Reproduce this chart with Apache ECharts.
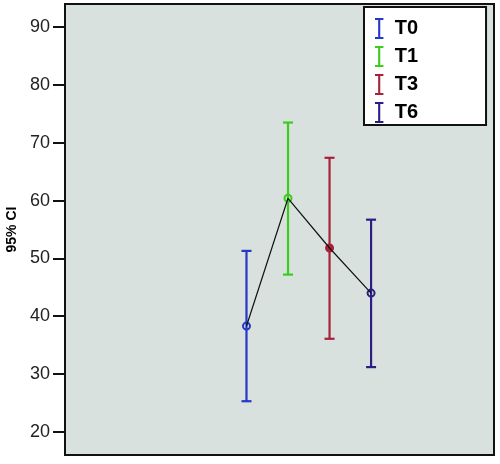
<!DOCTYPE html>
<html>
<head>
<meta charset="utf-8">
<script src="https://cdn.jsdelivr.net/npm/echarts@6/dist/echarts.min.js"></script>
<style>
body{margin:0;background:#fff;}
#chart{width:500px;height:464px;}
</style>
</head>
<body>
<div id="chart"></div>
<script>
var groups = ['T0', 'T1', 'T3', 'T6']
var means = [38.3, 60.4, 51.8, 44.0]
var lows = [25.3, 47.2, 36.1, 31.2]
var highs = [51.3, 73.5, 67.4, 56.7]
var colors = ['#2337c8', '#3ccc1e', '#a8213a', '#2a1e86']
var filled = [false, false, true, false]
var yTicks = [20, 30, 40, 50, 60, 70, 80, 90]

var chart = echarts.init(document.getElementById('chart'))

// I-beam shape for the legend
var ibeam = 'path://M0,0 L12,0 L12,3 L7.5,3 L7.5,27 L12,27 L12,30 L0,30 L0,27 L4.5,27 L4.5,3 L0,3 Z'

var series = []
for (let i = 0; i < groups.length; i++) {
  series.push({
    name: groups[i],
    type: 'custom',
    z: 3,
    itemStyle: {color: colors[i]},
    data: [[i, lows[i], highs[i], means[i]]],
    renderItem: function (params, api) {
      var x = api.value(0)
      var lo = api.coord([x, api.value(1)])
      var hi = api.coord([x, api.value(2)])
      var m = api.coord([x, api.value(3)])
      var c = colors[i]
      var w = 5
      var st = {stroke: c, lineWidth: 2.2}
      return {
        type: 'group',
        children: [
          {type: 'line', shape: {x1: hi[0], y1: hi[1], x2: lo[0], y2: lo[1]}, style: st},
          {type: 'line', shape: {x1: hi[0] - w, y1: hi[1], x2: hi[0] + w, y2: hi[1]}, style: st},
          {type: 'line', shape: {x1: lo[0] - w, y1: lo[1], x2: lo[0] + w, y2: lo[1]}, style: st},
          {type: 'circle', z2: 10, shape: {cx: m[0], cy: m[1], r: 3.5},
            style: {stroke: c, lineWidth: 2, fill: filled[i] ? c : 'none'}}
        ]
      }
    }
  })
}

series.push({
  name: 'means',
  type: 'line',
  z: 4,
  symbol: 'none',
  lineStyle: {color: '#111', width: 1.2},
  data: means.map(function (v, i) { return [i, v] })
})

chart.setOption({
  backgroundColor: '#fff',
  animation: false,
  grid: {
    left: 65, right: 6, top: 4, bottom: 9,
    outerBoundsMode: 'none',
    containLabel: false,
    show: true,
    backgroundColor: '#d9e1de',
    borderColor: '#111',
    borderWidth: 2
  },
  legend: {
    orient: 'vertical',
    left: 364,
    top: 7,
    padding: [11, 68, 2, 11],
    itemGap: 7,
    itemWidth: 9,
    itemHeight: 21,
    backgroundColor: '#fff',
    borderColor: '#111',
    borderWidth: 2,
    textStyle: {fontFamily: 'Arial, Liberation Sans', fontSize: 20, fontWeight: 'bold', color: '#000', padding: [0, 0, 0, 6]},
    data: groups.map(function (g, i) {
      return {name: g, icon: ibeam, itemStyle: {color: colors[i]}}
    })
  },
  xAxis: {
    type: 'value',
    min: -4.37,
    max: 5.96,
    axisLine: {show: true, onZero: false, lineStyle: {color: '#111', width: 2}},
    axisTick: {show: false},
    axisLabel: {show: false},
    splitLine: {show: false}
  },
  yAxis: {
    type: 'value',
    min: 16,
    max: 94,
    name: '95% CI',
    nameLocation: 'middle',
    nameGap: 44,
    nameTextStyle: {fontFamily: 'Arial, Liberation Sans', fontSize: 14, fontWeight: 'bold', color: '#000'},
    axisLine: {show: true, onZero: false, lineStyle: {color: '#111', width: 2}},
    axisTick: {show: true, customValues: yTicks, length: 12, lineStyle: {color: '#111', width: 2}},
    axisLabel: {customValues: yTicks, fontFamily: 'Arial, Liberation Sans', fontSize: 18, color: '#222', margin: 15},
    splitLine: {show: false}
  },
  series: series
})
</script>
</body>
</html>
